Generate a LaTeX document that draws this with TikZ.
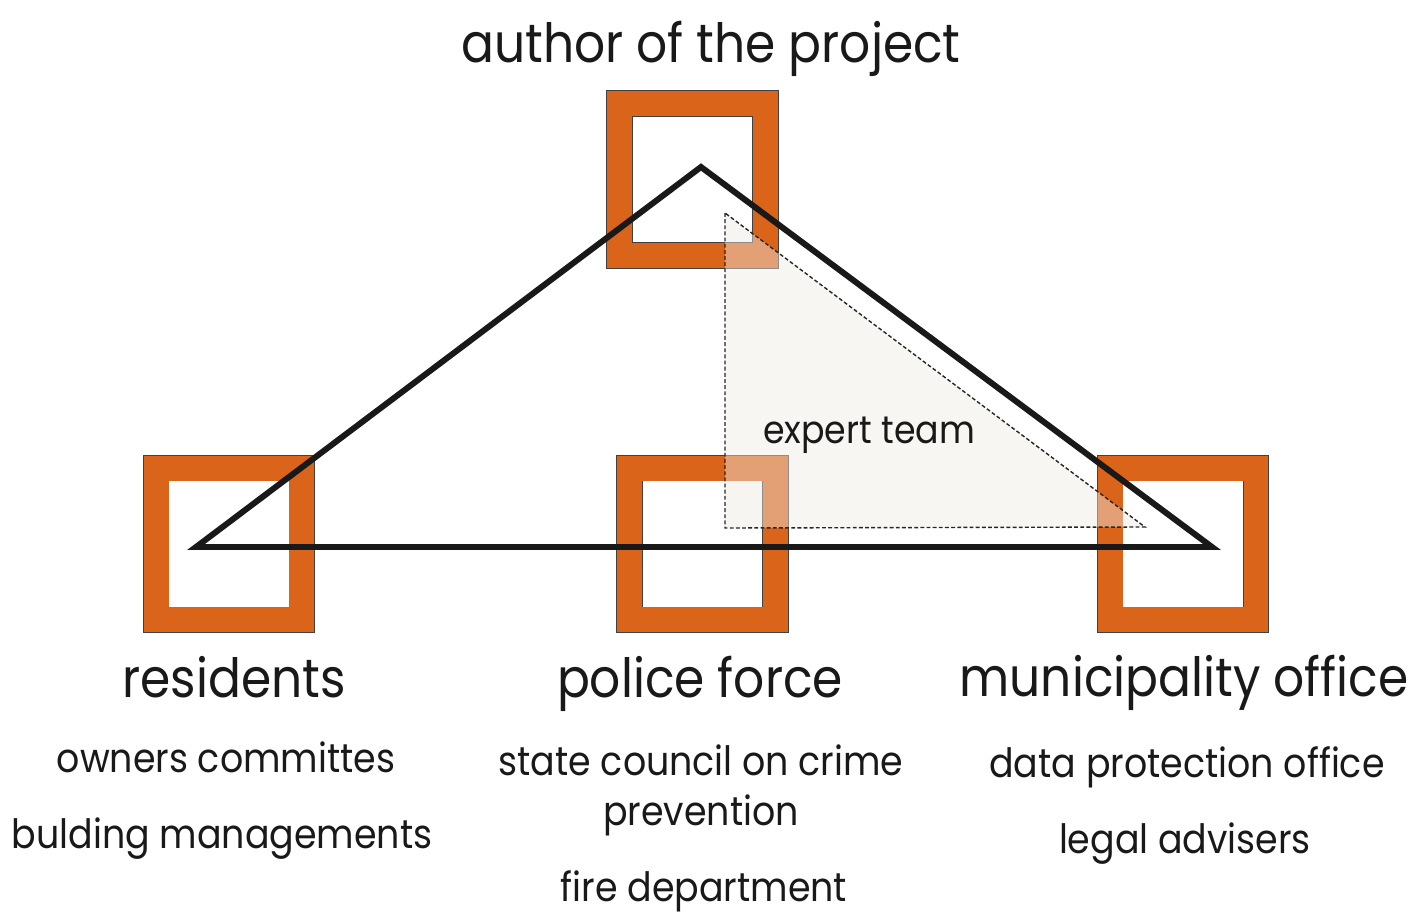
\documentclass[tikz,border=0pt]{standalone}
\usepackage{fontspec}
\setmainfont[FakeStretch=0.9]{Poppins}
\usetikzlibrary{positioning}
\definecolor{roleorange}{RGB}{217,100,26}
\definecolor{teamfill}{RGB}{238,235,226}
\tikzset {
  % orange frame of one party
  party/.style = {
    rectangle,
    draw = black!75,
    line width = 0.35pt,
    double = roleorange,
    double distance = 0.5cm,
    fill = white,
    minimum width = 2.92cm,
    minimum height = 3.04cm,
    inner sep = 0
  },
  % the big triangle between the parties
  link/.style = {
    draw = black!90,
    line width = 3.4pt,
    miter limit = 20
  },
  % expert team triangle
  team/.style = {
    draw = black!85,
    line width = 0.8pt,
    dash pattern = on 2.2pt off 1.3pt,
    fill = teamfill,
    fill opacity = 0.45,
    draw opacity = 1
  },
  title/.style = {
    anchor = base,
    text = black!90,
    font = \fontsize{30.8}{36}\selectfont
  },
  member/.style = {
    anchor = base,
    text = black!90,
    font = \fontsize{23}{28}\selectfont
  }
}
\begin{document}
\begin{tikzpicture}[x=0.02cm, y=-0.02cm]
  \useasboundingbox (0,0) rectangle (1417,913);

  \node[party] (author) at (692.5,179.5) {};
  \node[party] (residents) at (229,544) {};
  \node[party] (police) at (702.5,544) {};
  \node[party] (municipality) at (1183,544) {};

  \coordinate (apex) at (701,167);
  \coordinate (left) at (196,547);
  \coordinate (right) at (1212,547);
  \coordinate (team top) at (725,213);
  \coordinate (team left) at (725,528);
  \coordinate (team right) at (1145,527);

  \path[team] (team top) -- (team left) -- (team right) -- cycle;
  \draw[link] (apex) -- (left) -- (right) -- cycle;

  \node[title] (author label) at (711,62) {author of the project};
  \node[anchor=base, text=black!90, font=\fontsize{22}{26}\selectfont]
    (team label) at (869,443) {expert team};

  \node[title] (residents label) at (234,697) {residents};
  \node[member] (owners) at (226,772) {owners committes};
  \node[member] (managements) at (222,848) {bulding managements};

  \node[title] (police label) at (700,697) {police force};
  \node[member] (council) at (701,775) {state council on crime};
  \node[member] (prevention) at (701,825) {prevention};
  \node[member] (fire) at (704,901) {fire department};

  \node[title] (municipality label) at (1184,696) {municipality office};
  \node[member] (data) at (1187,777) {data protection office};
  \node[member] (legal) at (1185,853) {legal advisers};
\end{tikzpicture}
\end{document}
